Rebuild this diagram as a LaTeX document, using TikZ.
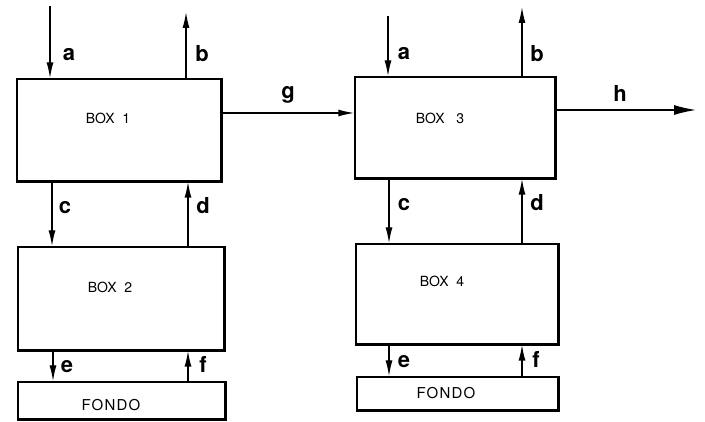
\documentclass[tikz,border=0pt]{standalone}
\usepackage{fontspec}
\setmainfont{TeX Gyre Heros}
\usetikzlibrary{arrows.meta}
\begin{document}
\begin{tikzpicture}[x=1pt,y=-1pt,
  box/.style={draw,line width=1.4pt,minimum width=#1,inner sep=0pt},
  boxtxt/.style={font=\fontsize{14}{14}\selectfont,inner sep=0pt},
  fondotxt/.style={font=\fontsize{15}{15}\selectfont\addfontfeature{LetterSpace=8},inner sep=0pt},
  lab/.style={font=\fontsize{22}{22}\selectfont\bfseries,inner sep=0pt},
  arr/.style={line width=1.4pt,-{Latex[length=16pt,width=7pt]}},
  shade/.style={line width=2.8pt}]
\useasboundingbox (0,0) rectangle (705,422);
% boxes
\node[box=204pt,minimum height=102pt] (b1) at (119,130) {};
\node[box=206pt,minimum height=103pt] (b2) at (121,298.5) {};
\node[box=207pt,minimum height=37pt] (f1) at (121.5,400.5) {};
\node[box=200pt,minimum height=101pt] (b3) at (455,127.5) {};
\node[box=202pt,minimum height=100pt] (b4) at (457,294) {};
\node[box=201pt,minimum height=33pt] (f2) at (457.5,393.5) {};
\foreach \n in {b1,b2,f1,b3,b4,f2}{
  \draw[shade] (\n.north east) -- (\n.south east) -- (\n.south west);
}
% texts
\node[boxtxt] (t1) at (108,118) {BOX\ \ 1};
\node[boxtxt] (t2) at (110,287) {BOX\ \ 2};
\node[fondotxt] (tf1) at (111,405) {FONDO};
\node[boxtxt] (t3) at (440,118) {BOX\ \ \ 3};
\node[boxtxt] (t4) at (442,281) {BOX\ \ 4};
\node[fondotxt] (tf2) at (446,393) {FONDO};
% x positions
\coordinate (xa1) at (50,6);
\coordinate (xb1) at (186,12);
\coordinate (xc1) at (52,0);
\coordinate (xd1) at (188,0);
\coordinate (xe1) at (53,0);
\coordinate (xf1) at (188,0);
\coordinate (xa3) at (388,16);
\coordinate (xb3) at (522,7);
\coordinate (xc3) at (389,0);
\coordinate (xd3) at (522,0);
\coordinate (gy) at (0,113);
\coordinate (hend) at (696,110);
% connectors
\draw[arr] (xa1) -- (xa1 |- b1.north);
\draw[arr] (xb1 |- b1.north) -- (xb1);
\draw[arr] (b1.south -| xc1) -- (b2.north -| xc1);
\draw[arr] (b2.north -| xd1) -- (b1.south -| xd1);
\draw[arr] (b2.south -| xe1) -- (f1.north -| xe1);
\draw[arr] (f1.north -| xf1) -- (b2.south -| xf1);
\draw[arr] (b1.east |- gy) -- (b3.west |- gy);
\draw[arr] (xa3) -- (xa3 |- b3.north);
\draw[arr] (xb3 |- b3.north) -- (xb3);
\draw[arr] (b3.south -| xc3) -- (b4.north -| xc3);
\draw[arr] (b4.north -| xd3) -- (b3.south -| xd3);
\draw[arr] (b4.south -| xc3) -- (f2.north -| xc3);
\draw[arr] (f2.north -| xd3) -- (b4.south -| xd3);
\draw[line width=1.4pt,-{Latex[length=22pt,width=10pt]}] (b3.east |- hend) -- (hend);
% labels
\node[lab] (la1) at (69,55) {a};
\node[lab] (lb1) at (202,54) {b};
\node[lab] (lc1) at (65,208) {c};
\node[lab] (ld1) at (203,206) {d};
\node[lab] (le1) at (67,367) {e};
\node[lab] (lf1) at (203,364) {f};
\node[lab] (lg) at (288,95) {g};
\node[lab] (la3) at (404,54) {a};
\node[lab] (lb3) at (537,54) {b};
\node[lab] (lc3) at (404,205) {c};
\node[lab] (ld3) at (537,203) {d};
\node[lab] (le3) at (404,362) {e};
\node[lab] (lf3) at (536,359) {f};
\node[lab] (lh) at (620,93) {h};
\end{tikzpicture}
\end{document}
